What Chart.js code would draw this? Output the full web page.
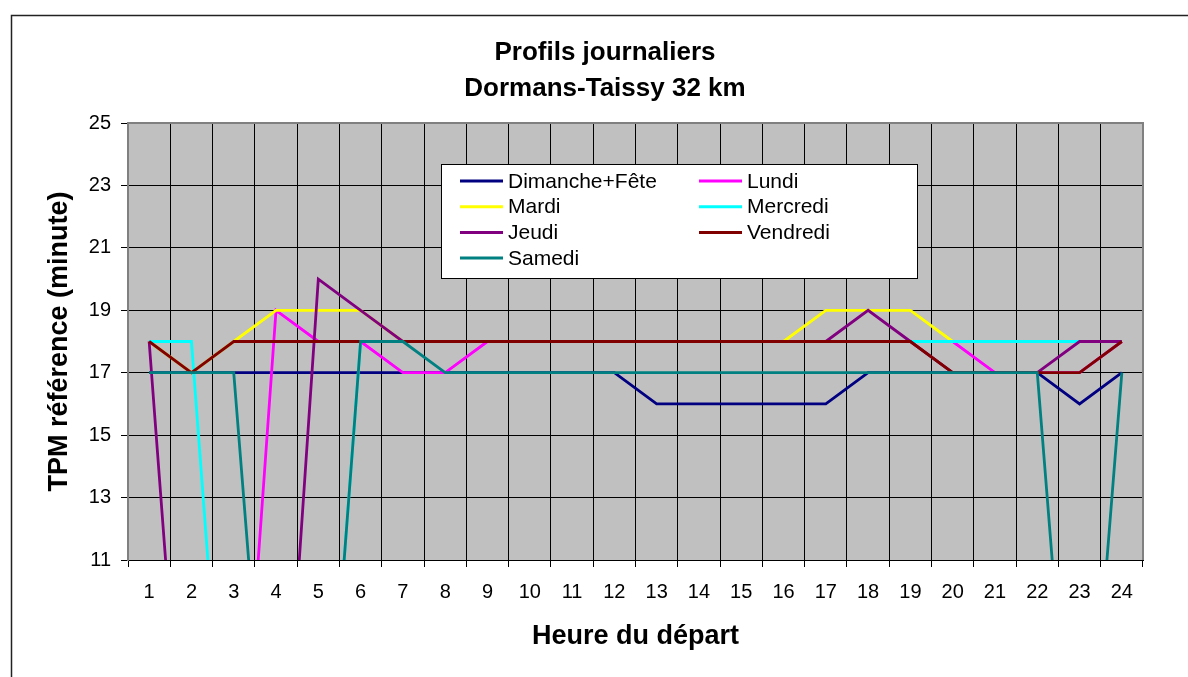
<!DOCTYPE html>
<html lang="fr">
<head>
<meta charset="utf-8">
<title>Profils journaliers</title>
<script src="https://cdn.jsdelivr.net/npm/chart.js@4/dist/chart.umd.min.js"></script>
<style>
  html, body { margin: 0; padding: 0; background: #fff; }
  #wrap { position: relative; width: 1188px; height: 677px; }
</style>
</head>
<body>
<div id="wrap"><canvas id="profils" width="1188" height="677"></canvas></div>
<script>
// heures de départ
const heures = ['1','2','3','4','5','6','7','8','9','10','11','12','13','14','15','16','17','18','19','20','21','22','23','24'];

const titre = ['Profils journaliers', 'Dormans-Taissy 32 km'];
const jours = ['Dimanche+Fête', 'Lundi', 'Mardi', 'Mercredi', 'Jeudi', 'Vendredi', 'Samedi'];
const couleurs = ['#000080', '#FF00FF', '#FFFF00', '#00FFFF', '#800080', '#800000', '#008080'];

// TPM de référence (minutes) par heure, 0 = pas de mesure
const dimanche = [17,17,17,17,17,17,17,17,17,17,17,17,16,16,16,16,16,17,17,17,17,17,16,17];
const lundi    = [0,0,0,19,18,18,17,17,18,18,18,18,18,18,18,18,18,18,18,18,17,17,17,18];
const mardi    = [18,17,18,19,19,19,18,18,18,18,18,18,18,18,18,18,19,19,19,18,18,18,18,18];
const mercredi = [18,18,0,0,0,18,18,18,18,18,18,18,18,18,18,18,18,18,18,18,18,18,18,18];
const jeudi    = [18,0,0,0,20,19,18,18,18,18,18,18,18,18,18,18,18,19,18,17,17,17,18,18];
const vendredi = [18,17,18,18,18,18,18,18,18,18,18,18,18,18,18,18,18,18,18,17,17,17,17,18];
const samedi   = [17,17,17,0,0,18,18,17,17,17,17,17,17,17,17,17,17,17,17,17,17,17,0,17];

const series = [dimanche, lundi, mardi, mercredi, jeudi, vendredi, samedi];

const yMin = 11, yMax = 25, yStep = 2;

const police = "'Liberation Sans', Arial, Helvetica, sans-serif";

const W = 1188, H = 677;
const PAD = { left: 11, top: 123, right: 45, bottom: 0 };
const PLOT_LEFT = 128, PLOT_BOTTOM = 560;

// fond gris, cadre, titre et légende à la manière d'Excel
const decor = {
  id: 'decor',
  beforeDraw(chart) {
    const { ctx, chartArea: a } = chart;
    ctx.save();
    ctx.fillStyle = '#fff';
    ctx.fillRect(0, 0, W, H);
    ctx.fillStyle = '#C0C0C0';
    ctx.fillRect(a.left, a.top, a.right - a.left, a.bottom - a.top);
    // cadre extérieur
    ctx.strokeStyle = '#222';
    ctx.lineWidth = 1.5;
    ctx.beginPath();
    ctx.moveTo(11.5, H + 2);
    ctx.lineTo(11.5, 15.5);
    ctx.lineTo(W + 2, 15.5);
    ctx.stroke();
    ctx.restore();
  },
  beforeDatasetsDraw(chart) {
    const { ctx, chartArea: a } = chart;
    ctx.save();
    ctx.strokeStyle = '#808080';
    ctx.lineWidth = 2;
    ctx.beginPath();
    ctx.moveTo(a.left, a.bottom);
    ctx.lineTo(a.left, a.top);
    ctx.lineTo(a.right, a.top);
    ctx.lineTo(a.right, a.bottom);
    ctx.stroke();
    ctx.restore();
  },
  afterDatasetsDraw(chart) {
    const { ctx } = chart;
    const box = { x: 441, y: 164, w: 476, h: 114 };
    ctx.save();
    ctx.fillStyle = '#fff';
    ctx.fillRect(box.x, box.y, box.w, box.h);
    ctx.strokeStyle = '#000';
    ctx.lineWidth = 1;
    ctx.strokeRect(box.x + 0.5, box.y + 0.5, box.w, box.h);
    ctx.font = '21px ' + police;
    ctx.textBaseline = 'middle';
    ctx.textAlign = 'left';
    chart.data.datasets.forEach((ds, i) => {
      const col = i % 2, row = Math.floor(i / 2);
      const x0 = col === 0 ? 460 : 699;
      const y = 181 + row * 25.7;
      ctx.strokeStyle = ds.borderColor;
      ctx.lineWidth = 3;
      ctx.beginPath();
      ctx.moveTo(x0, y);
      ctx.lineTo(x0 + 43, y);
      ctx.stroke();
      ctx.fillStyle = '#000';
      ctx.fillText(ds.label, x0 + 48, y + 1);
    });
    ctx.restore();
  },
  afterDraw(chart) {
    const { ctx } = chart;
    ctx.save();
    ctx.fillStyle = '#000';
    ctx.font = 'bold 26px ' + police;
    ctx.textAlign = 'center';
    ctx.textBaseline = 'middle';
    titre.forEach((t, i) => ctx.fillText(t, 605, 53 + i * 36));
    ctx.restore();
  }
};

new Chart(document.getElementById('profils'), {
  type: 'line',
  data: {
    labels: heures,
    datasets: series.map((vals, i) => ({
      label: jours[i],
      data: vals,
      borderColor: couleurs[i],
      backgroundColor: couleurs[i],
      borderWidth: 2.8,
      pointRadius: 0,
      tension: 0,
      fill: false,
      // les dernières séries passent par-dessus
      order: series.length - i
    }))
  },
  options: {
    responsive: false,
    animation: false,
    layout: { padding: PAD },
    plugins: {
      legend: { display: false },
      title: { display: false },
      tooltip: { enabled: false }
    },
    scales: {
      x: {
        offset: true,
        grid: { offset: true, color: '#000', lineWidth: 1, tickLength: 7, drawTicks: true },
        border: { color: '#000', width: 1 },
        ticks: { color: '#000', font: { family: police, size: 20 }, padding: 13, maxRotation: 0, autoSkip: false },
        title: {
          display: true, text: 'Heure du départ', color: '#000',
          font: { family: police, size: 27, weight: 'bold' },
          padding: { top: 0, bottom: 24 }
        },
        afterFit: s => { s.height = H - PLOT_BOTTOM - PAD.bottom; }
      },
      y: {
        min: yMin,
        max: yMax,
        grid: { color: '#000', lineWidth: 1, tickLength: 7, drawTicks: true },
        border: { color: '#808080', width: 2 },
        ticks: { stepSize: yStep, color: '#000', font: { family: police, size: 20 }, padding: 10 },
        title: {
          display: true, text: 'TPM référence (minute)', color: '#000',
          font: { family: police, size: 27, weight: 'bold' },
          padding: { top: 32, bottom: 0 }
        },
        afterFit: s => { s.width = PLOT_LEFT - PAD.left; }
      }
    }
  },
  plugins: [decor]
});
</script>
</body>
</html>
